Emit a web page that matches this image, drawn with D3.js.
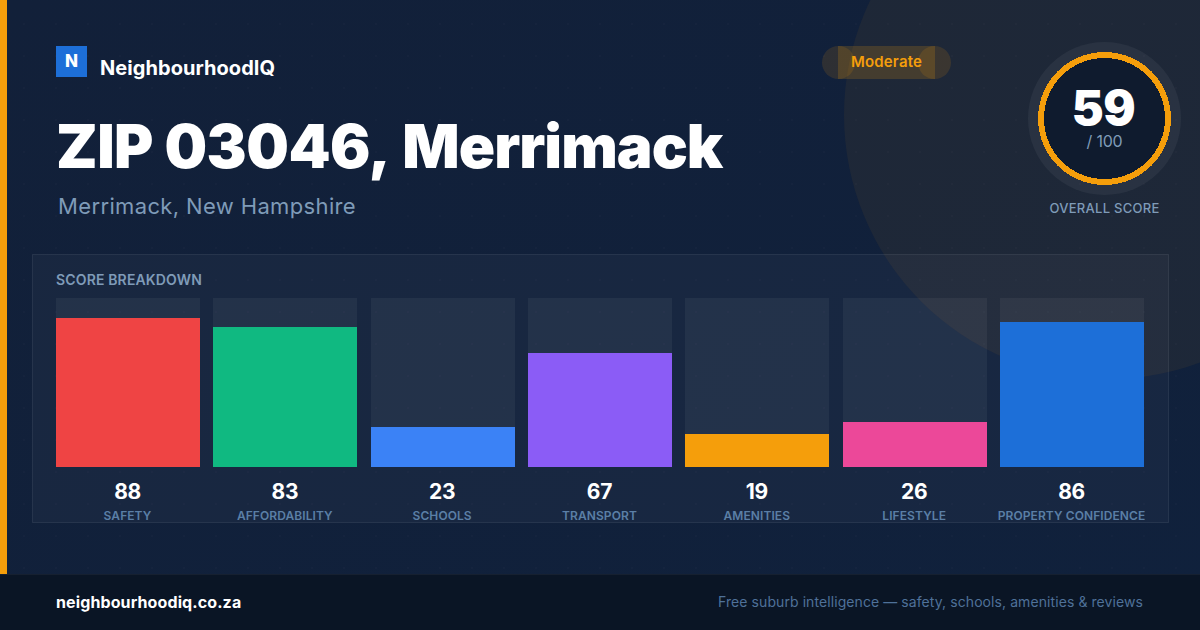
<!DOCTYPE html>
<html>
<head>
<meta charset="utf-8">
<script src="https://cdn.jsdelivr.net/npm/d3@7"></script>
<style>
html, body { margin: 0; padding: 0; background: #10213c; }
svg { display: block; }
text { font-family: Inter, sans-serif; }
</style>
</head>
<body>
<svg id="chart" width="1200" height="630"></svg>
<script>
var categories = ["SAFETY", "AFFORDABILITY", "SCHOOLS", "TRANSPORT", "AMENITIES", "LIFESTYLE", "PROPERTY CONFIDENCE"];
var scores = [88, 83, 23, 67, 19, 26, 86];
var barColors = ["#ef4444", "#10b981", "#3b82f6", "#8b5cf6", "#f59e0b", "#ec4899", "#1d6fd8"];
var overallScore = 59;

!(function(){
    "use strict";

    var svg = d3.select("#chart");
    var amber = "#f59e0b";

    drawBackground();
    drawHeader();
    drawRing();
    drawBars();
    drawFooter();

    function drawBackground() {
        var defs = svg.append("defs");
        var grad = defs.append("linearGradient").attr("id", "bg")
            .attr("x1", 0).attr("y1", 0).attr("x2", 1).attr("y2", 1);
        grad.append("stop").attr("offset", "0%").attr("stop-color", "#122039");
        grad.append("stop").attr("offset", "100%").attr("stop-color", "#10213c");

        var dots = defs.append("pattern").attr("id", "dots")
            .attr("width", 32).attr("height", 32)
            .attr("patternUnits", "userSpaceOnUse");
        dots.append("rect").attr("x", 23.5).attr("y", 23.5)
            .attr("width", 1).attr("height", 1)
            .attr("fill", "#ffffff").attr("fill-opacity", 0.05);

        svg.append("rect").attr("width", 1200).attr("height", 630).attr("fill", "url(#bg)");
        svg.append("circle").attr("cx", 1108).attr("cy", 115).attr("r", 264)
            .attr("fill", amber).attr("fill-opacity", 0.06);
        svg.append("rect").attr("width", 1200).attr("height", 630).attr("fill", "url(#dots)");
        svg.append("rect").attr("width", 7).attr("height", 574).attr("fill", amber);
    }

    function drawHeader() {
        svg.append("rect").attr("x", 56).attr("y", 46).attr("width", 31).attr("height", 31).attr("fill", "#1d6fd8");
        svg.append("text").attr("x", 71.5).attr("y", 66.5).attr("text-anchor", "middle")
            .attr("font-size", 17).attr("font-weight", 800).attr("fill", "#fff").text("N");
        svg.append("text").attr("x", 100).attr("y", 75)
            .attr("font-size", 20).attr("font-weight", 700).attr("letter-spacing", 0.06)
            .attr("fill", "#fff").text("NeighbourhoodIQ");

        var title = svg.append("text").attr("x", 56).attr("y", 168)
            .attr("font-size", 60).attr("font-weight", 900).attr("letter-spacing", -0.5)
            .attr("fill", "#fff").text("ZIP 03046, ");
        title.append("tspan").attr("dx", 4).attr("letter-spacing", -0.95).text("Merrimack");
        svg.append("text").attr("x", 58).attr("y", 214)
            .attr("font-size", 22).attr("font-weight", 400).attr("letter-spacing", 0.36)
            .attr("fill", "#7f9bb8").text("Merrimack, New Hampshire");

        // pill: body plus two end circles, they overlap on purpose
        svg.append("rect").attr("x", 838).attr("y", 46).attr("width", 97).attr("height", 33)
            .attr("fill", amber).attr("fill-opacity", 0.18);
        [838.5, 934.5].forEach(function(cx) {
            svg.append("circle").attr("cx", cx).attr("cy", 62.5).attr("r", 16.5)
                .attr("fill", amber).attr("fill-opacity", 0.13);
        });
        svg.append("text").attr("x", 886.5).attr("y", 67).attr("text-anchor", "middle")
            .attr("font-size", 15).attr("font-weight", 600).attr("letter-spacing", 0.2)
            .attr("fill", amber).text("Moderate");
    }

    function drawRing() {
        var cx = 1104.5, cy = 118.5;
        svg.append("circle").attr("cx", cx).attr("cy", cy).attr("r", 76.5)
            .attr("fill", "#ffffff").attr("fill-opacity", 0.05);
        svg.append("circle").attr("cx", cx).attr("cy", cy).attr("r", 66.5)
            .attr("fill", amber).attr("shape-rendering", "crispEdges");
        svg.append("circle").attr("cx", cx).attr("cy", cy).attr("r", 60.5)
            .attr("fill", "#0f1b2e").attr("shape-rendering", "crispEdges");

        svg.append("text").attr("x", 1103.5).attr("y", 125).attr("text-anchor", "middle")
            .attr("font-size", 48).attr("font-weight", 900).attr("letter-spacing", -0.5)
            .attr("fill", "#fff").text(overallScore);
        svg.append("text").attr("x", cx).attr("y", 147).attr("text-anchor", "middle")
            .attr("font-size", 16).attr("letter-spacing", -0.2).attr("fill", "#7f9bb8").text("/ 100");
        svg.append("text").attr("x", cx).attr("y", 213).attr("text-anchor", "middle")
            .attr("font-size", 13).attr("font-weight", 500).attr("letter-spacing", 0.28)
            .attr("fill", "#7f9bb8").text("OVERALL SCORE");
    }

    function drawBars() {
        svg.append("rect").attr("x", 32.5).attr("y", 254.5).attr("width", 1136).attr("height", 268)
            .attr("fill", "#ffffff").attr("fill-opacity", 0.03)
            .attr("stroke", "#ffffff").attr("stroke-opacity", 0.08);
        svg.append("text").attr("x", 56).attr("y", 285)
            .attr("font-size", 14).attr("font-weight", 600).attr("letter-spacing", 0.15)
            .attr("fill", "#7f9bb8").text("SCORE BREAKDOWN");

        var x = d3.scaleBand().domain(categories).range([56, 1144]).paddingInner(13.33 / 157.33);
        // bars start a hair under zero, a score of 0 would still show a 1px sliver
        var y = d3.scaleLinear().domain([-0.6, 100]).rangeRound([467, 298]);

        var g = svg.selectAll("g.bar").data(categories).enter().append("g").attr("class", "bar");

        g.append("rect")
            .attr("x", function(d) { return Math.round(x(d)); })
            .attr("y", y(100))
            .attr("width", 144)
            .attr("height", y(-0.6) - y(100))
            .attr("fill", "#ffffff").attr("fill-opacity", 0.05);
        g.append("rect")
            .attr("x", function(d) { return Math.round(x(d)); })
            .attr("y", function(d, i) { return y(scores[i]); })
            .attr("width", 144)
            .attr("height", function(d, i) { return y(-0.6) - y(scores[i]); })
            .attr("fill", function(d, i) { return barColors[i]; });
        g.append("text")
            .attr("x", function(d) { return x(d) + x.bandwidth() / 2 - 0.5; })
            .attr("y", 499).attr("text-anchor", "middle")
            .attr("font-size", 21).attr("font-weight", 700).attr("letter-spacing", -0.3)
            .attr("fill", "#fff")
            .text(function(d, i) { return scores[i]; });
        g.append("text")
            .attr("x", function(d) { return x(d) + x.bandwidth() / 2 - 0.5; })
            .attr("y", 520).attr("text-anchor", "middle")
            .attr("font-size", 12).attr("font-weight", 600).attr("letter-spacing", 0.08)
            .attr("fill", "#5b7fa6")
            .text(function(d) { return d; });
    }

    function drawFooter() {
        svg.append("rect").attr("y", 574).attr("width", 1200).attr("height", 56).attr("fill", "#0a1525");
        svg.append("rect").attr("y", 574).attr("width", 1200).attr("height", 1).attr("fill", "#ffffff").attr("fill-opacity", 0.05);
        svg.append("text").attr("x", 56).attr("y", 608)
            .attr("font-size", 16).attr("font-weight", 700).attr("letter-spacing", 0.11)
            .attr("fill", "#fff").text("neighbourhoodiq.co.za");
        svg.append("text").attr("x", 1143).attr("y", 607).attr("text-anchor", "end")
            .attr("font-size", 14).attr("letter-spacing", 0.08)
            .attr("fill", "#4f7199").text("Free suburb intelligence \u2014 safety, schools, amenities & reviews");
    }

}());
</script>
</body>
</html>
